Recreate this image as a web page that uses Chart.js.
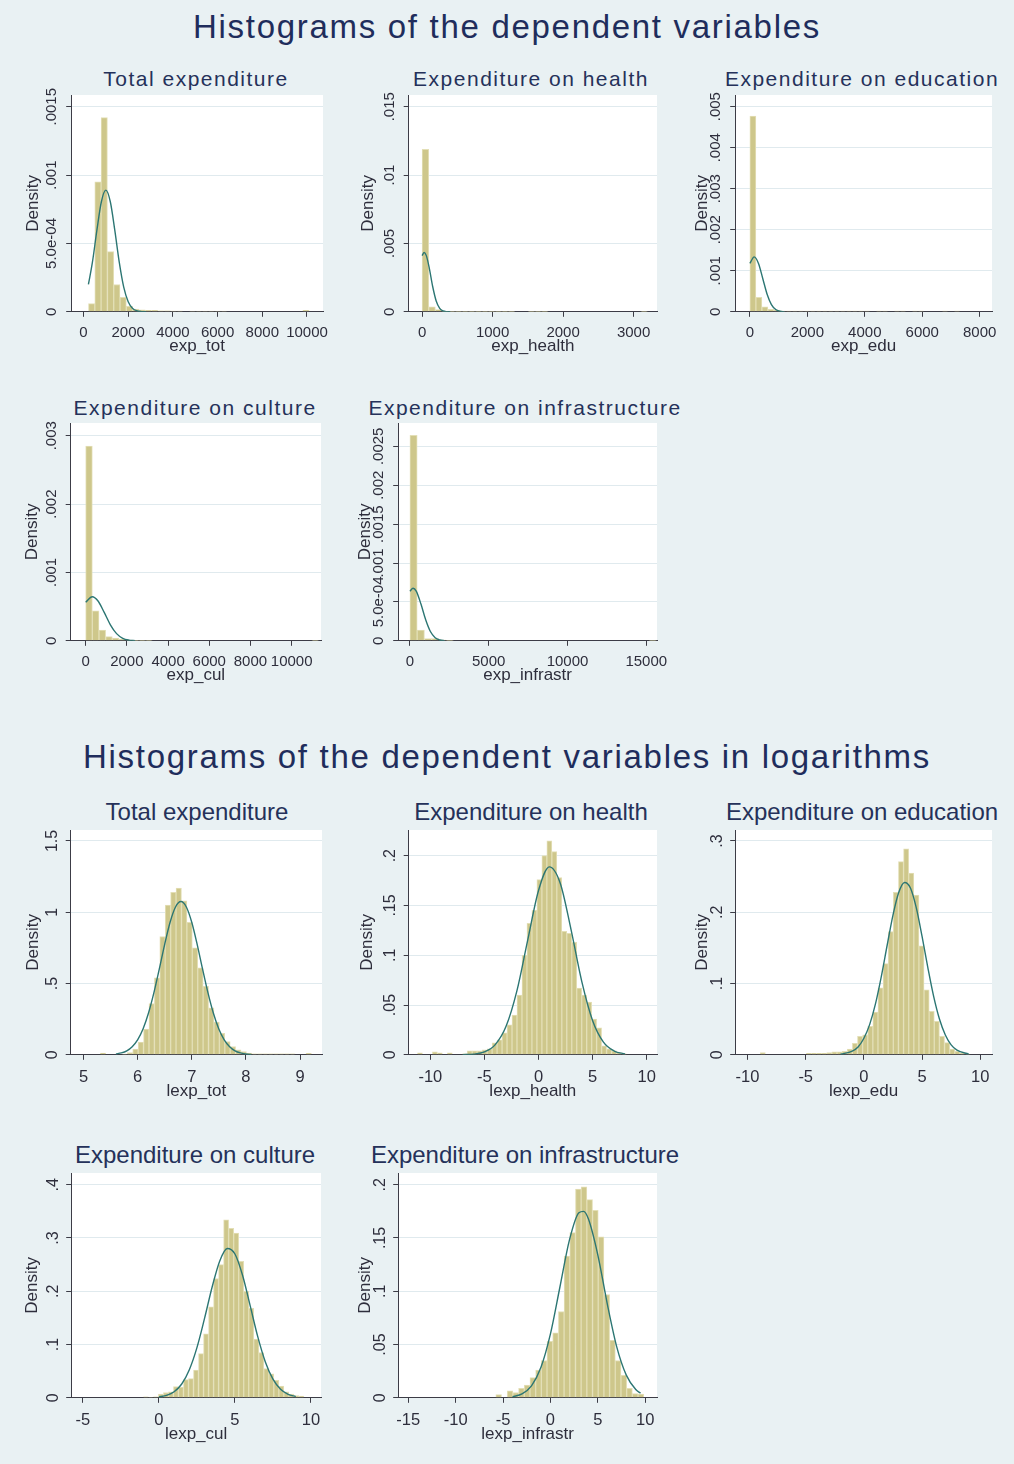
<!DOCTYPE html>
<html>
<head>
<meta charset="utf-8">
<title>Histograms of the dependent variables</title>
<script src="https://cdn.jsdelivr.net/npm/chart.js@4.4.1/dist/chart.umd.min.js"></script>
<style>
  html, body { margin: 0; padding: 0; }
  body {
    width: 1014px; height: 1464px; position: relative; overflow: hidden;
    background: #e9f1f3;
    font-family: 'Liberation Sans', Arial, sans-serif;
  }
  .main-title {
    position: absolute; left: 0; width: 1014px; text-align: center;
    color: #1f2d5c; font-size: 33px; letter-spacing: 1.7px; line-height: 40px;
  }
  .panel-title {
    position: absolute; white-space: nowrap; transform: translateX(-50%);
    color: #25315a; line-height: 28px;
  }
  .panel-title.lvl { font-size: 21px; letter-spacing: 1.5px; }
  .panel-title.log { font-size: 24px; }
  canvas { position: absolute; }
</style>
</head>
<body>
<div class="main-title" style="top:7px">Histograms of the dependent variables</div>
<div class="main-title" style="top:737px">Histograms of the dependent variables in logarithms</div>

<script>
/* ============================================================
   Data (density histograms + normal)
   ============================================================ */

// --- levels ---
const totBinStart = 224, totBinWidth = 282;
const totHeights = [0.00006, 0.00095, 0.00142, 0.00044, 0.0002, 0.000105, 0.00004, 0.00002, 0.000015,
  0.00001, 0.00001, 0.000008, 0.000008, 0.000006, 0.000006, 0, 0.000005, 0.000005, 0.000005, 0.000005,
  0.000005, 0.000005, 0, 0, 0, 0, 0, 0, 0, 0, 0, 0, 0, 0, 0.00001];
const totCurveX = [220, 400, 600, 800, 1000, 1200, 1400, 1600, 1800, 2000, 2200, 2400, 2600, 2800];
const totCurveY = [0.0002, 0.000363, 0.000597, 0.000805, 0.00089, 0.000805, 0.000597, 0.000363, 0.00018,
  0.0000737, 0.0000246, 0.0000068, 0.0000015, 0];

const healthBinStart = 0, healthBinWidth = 94;
const healthHeights = [0.01188, 0.00037, 0.00017, 0.00003, 0.00003, 0.00003, 0.00003, 0.00003, 0.00003,
  0.00003, 0.00003, 0.00003, 0.00002, 0.00002, 0, 0, 0.00002, 0.00002, 0.00002, 0, 0, 0, 0, 0, 0, 0, 0,
  0, 0, 0, 0, 0, 0, 0.00002, 0];
const healthCurveX = [0, 30, 60, 100, 150, 200, 250, 300, 350, 400];
const healthCurveY = [0.00411, 0.00434, 0.00411, 0.00325, 0.00185, 0.00079, 0.00025, 0.000059, 0.00001, 0];

const eduBinStart = 0, eduBinWidth = 209;
const eduHeights = [0.00477, 0.00035, 0.00012, 0.00006, 0.00004, 0.00002, 0.00002, 0.00002, 0.00002,
  0.00002, 0.00002, 0.00002, 0.00002, 0.00002, 0.00002, 0.00002, 0.00002, 0.00002, 0.00002, 0.00002, 0,
  0.00002, 0.00002, 0, 0.00002, 0.00002, 0, 0.00002, 0.00002, 0, 0, 0, 0.00002, 0, 0.00002];
const eduCurveX = [0, 150, 300, 450, 600, 750, 900, 1050, 1200];
const eduCurveY = [0.00118, 0.00134, 0.00118, 0.000807, 0.000429, 0.000177, 0.0000564, 0.000014, 0.000003];

const culBinStart = 0, culBinWidth = 323;
const culHeights = [0.00285, 0.00044, 0.000156, 0.00006, 0.00004, 0.00002, 0.00001, 0.000005, 0.000005,
  0.000005, 0, 0, 0, 0, 0, 0, 0, 0, 0, 0, 0, 0, 0, 0, 0, 0, 0, 0, 0, 0, 0, 0, 0, 0, 0.000005];
const culCurveX = [0, 320, 600, 900, 1200, 1500, 1800, 2100, 2400];
const culCurveY = [0.000564, 0.000644, 0.000582, 0.000415, 0.000234, 0.000105, 0.000037, 0.0000103, 0.000002];

const infBinStart = 0, infBinWidth = 460;
const infHeights = [0.00264, 0.000137, 0.00003, 0.00003, 0.00001, 0.000005, 0, 0, 0, 0, 0, 0, 0, 0, 0,
  0, 0, 0, 0, 0, 0, 0, 0, 0, 0, 0, 0, 0, 0, 0, 0, 0, 0, 0.000005];
const infCurveX = [0, 200, 400, 700, 1000, 1300, 1600, 1900, 2200];
const infCurveY = [0.000638, 0.000676, 0.000638, 0.000472, 0.00027, 0.000119, 0.0000405, 0.0000107, 0.000002];

// --- logarithms ---
const ltotBinStart = 5.31, ltotBinWidth = 0.1;
const ltotHeights = [0.012, 0, 0, 0, 0.005, 0.015, 0.04, 0.09, 0.18, 0.36, 0.54, 0.83, 1.05, 1.14, 1.17,
  1.08, 0.93, 0.75, 0.61, 0.48, 0.33, 0.23, 0.15, 0.093, 0.058, 0.035, 0.023, 0.012, 0.006, 0.006, 0.006,
  0.006, 0.006, 0.006, 0.006, 0.006, 0, 0, 0.01];
const ltotCurveX = [5.6, 5.7, 5.8, 5.9, 6.0, 6.1, 6.2, 6.3, 6.4, 6.5, 6.6, 6.7, 6.8, 6.9, 7.0, 7.1, 7.2,
  7.3, 7.4, 7.5, 7.6, 7.7, 7.8, 7.9, 8.0, 8.1];
const ltotCurveY = [0.006, 0.013, 0.028, 0.057, 0.105, 0.181, 0.291, 0.434, 0.601, 0.775, 0.93, 1.037,
  1.075, 1.037, 0.93, 0.775, 0.601, 0.434, 0.291, 0.181, 0.105, 0.057, 0.028, 0.013, 0.006, 0.002];

const lhealthBinStart = -11.19, lhealthBinWidth = 0.46;
const lhealthHeights = [0.002, 0, 0, 0.003, 0.002, 0, 0.002, 0, 0, 0.001, 0.004, 0.004, 0.004, 0.005,
  0.006, 0.012, 0.015, 0.022, 0.03, 0.04, 0.06, 0.1, 0.132, 0.145, 0.176, 0.2, 0.215, 0.204, 0.178, 0.124,
  0.122, 0.113, 0.067, 0.06, 0.053, 0.036, 0.027, 0.009, 0.006, 0.004, 0.002, 0.001];
const lhealthCurveX = [-7, -6, -5, -4, -3, -2, -1, 0, 1, 2, 3, 4, 5, 6, 7, 8];
const lhealthCurveY = [0.0001, 0.0007, 0.0029, 0.0102, 0.0286, 0.0642, 0.1152, 0.165, 0.1888, 0.1726,
  0.126, 0.0735, 0.0343, 0.0128, 0.0038, 0.0009];

const leduBinStart = -9.35, leduBinWidth = 0.44;
const leduHeights = [0, 0.003, 0, 0, 0, 0, 0, 0, 0, 0, 0.002, 0.002, 0.002, 0.002, 0.003, 0.004, 0.004,
  0.005, 0.008, 0.016, 0.026, 0.028, 0.04, 0.06, 0.094, 0.128, 0.173, 0.228, 0.271, 0.289, 0.255, 0.224,
  0.153, 0.091, 0.061, 0.047, 0.026, 0.017, 0.008, 0.005, 0.002, 0.001];
const leduCurveX = [-2, -1, -0.5, 0, 0.5, 1, 1.5, 2, 2.5, 3, 3.5, 4, 4.5, 5, 5.5, 6, 6.5, 7, 7.5, 8, 9];
const leduCurveY = [0.0008, 0.0052, 0.011, 0.0232, 0.0427, 0.0717, 0.11, 0.1537, 0.196, 0.228, 0.2418,
  0.234, 0.2064, 0.166, 0.122, 0.0816, 0.0498, 0.0278, 0.014, 0.0065, 0.0011];

const lculBinStart = -1.025, lculBinWidth = 0.33;
const lculHeights = [0.002, 0.001, 0.002, 0.007, 0.01, 0.011, 0.021, 0.02, 0.034, 0.036, 0.052, 0.083,
  0.12, 0.171, 0.224, 0.25, 0.334, 0.318, 0.309, 0.256, 0.2, 0.168, 0.11, 0.085, 0.055, 0.045, 0.033,
  0.022, 0.011, 0.007, 0.004, 0.003];
const lculCurveX = [0, 0.5, 1, 1.5, 2, 2.5, 3, 3.5, 4, 4.5, 5, 5.5, 6, 6.5, 7, 7.5, 8, 8.5, 9];
const lculCurveY = [0.0015, 0.0044, 0.0113, 0.0259, 0.0526, 0.0941, 0.149, 0.208, 0.257, 0.2803, 0.27,
  0.23, 0.173, 0.1148, 0.0673, 0.0349, 0.016, 0.0065, 0.0023];

const linfBinStart = -5.76, linfBinWidth = 0.6;
const linfHeights = [0.003, 0, 0.0066, 0.005, 0.009, 0.012, 0.019, 0.026, 0.035, 0.053, 0.061, 0.081,
  0.133, 0.155, 0.196, 0.198, 0.186, 0.176, 0.151, 0.097, 0.054, 0.035, 0.021, 0.009, 0.004, 0.0035];
const linfCurveX = [-4, -3, -2, -1, 0, 1, 2, 3, 3.5, 4, 5, 6, 7, 8, 9, 9.5];
const linfCurveY = [0.001, 0.0036, 0.0112, 0.0286, 0.06, 0.104, 0.148, 0.1737, 0.175, 0.168, 0.134,
  0.088, 0.0476, 0.0213, 0.0078, 0.0044];

// --- axis ticks and labels ---
const xTicksTot = [0, 2000, 4000, 6000, 8000, 10000];
const xTicksHealth = [0, 1000, 2000, 3000];
const xTicksEdu = [0, 2000, 4000, 6000, 8000];
const xTicksCul = [0, 2000, 4000, 6000, 8000, 10000];
const xTicksInf = [0, 5000, 10000, 15000];
const xTicksLtot = [5, 6, 7, 8, 9];
const xTicksLhealth = [-10, -5, 0, 5, 10];
const xTicksLedu = [-10, -5, 0, 5, 10];
const xTicksLcul = [-5, 0, 5, 10];
const xTicksLinf = [-15, -10, -5, 0, 5, 10];

const yTicksTot = [0, 0.0005, 0.001, 0.0015];
const yLabelsTot = ['0', '5.0e-04', '.001', '.0015'];
const yTicksHealth = [0, 0.005, 0.01, 0.015];
const yLabelsHealth = ['0', '.005', '.01', '.015'];
const yTicksEdu = [0, 0.001, 0.002, 0.003, 0.004, 0.005];
const yLabelsEdu = ['0', '.001', '.002', '.003', '.004', '.005'];
const yTicksCul = [0, 0.001, 0.002, 0.003];
const yLabelsCul = ['0', '.001', '.002', '.003'];
const yTicksInf = [0, 0.0005, 0.001, 0.0015, 0.002, 0.0025];
const yLabelsInf = ['0', '5.0e-04', '.001', '.0015', '.002', '.0025'];
const yTicksLtot = [0, 0.5, 1, 1.5];
const yLabelsLtot = ['0', '.5', '1', '1.5'];
const yTicksLhealth = [0, 0.05, 0.1, 0.15, 0.2];
const yLabelsLhealth = ['0', '.05', '.1', '.15', '.2'];
const yTicksLedu = [0, 0.1, 0.2, 0.3];
const yLabelsLedu = ['0', '.1', '.2', '.3'];
const yTicksLcul = [0, 0.1, 0.2, 0.3, 0.4];
const yLabelsLcul = ['0', '.1', '.2', '.3', '.4'];
const yTicksLinf = [0, 0.05, 0.1, 0.15, 0.2];
const yLabelsLinf = ['0', '.05', '.1', '.15', '.2'];

/* --- look --- */
const BAR_FILL = '#cec78b';
const BAR_EDGE = '#e3dfb6';
const CURVE = '#2c7673';
const GRID = '#e0eaee';
const AXIS = '#3c3c46';
const TEXT = '#2e2e3c';
const FONT = "'Liberation Sans', Arial, sans-serif";

/* --- panel layout: plot = [left, top, right, bottom] in page px --- */
const panels = [
  { title: 'Total expenditure', tx: 196, ty: 79, kind: 'lvl', plot: [71, 95, 322.7, 311.7],
    xMin: -550, xMax: 10716, yMax: 0.001586, dens: 38,
    start: totBinStart, width: totBinWidth, heights: totHeights, cx: totCurveX, cy: totCurveY,
    xTicks: xTicksTot, yTicks: yTicksTot, yLabels: yLabelsTot, xTitle: 'exp_tot' },
  { title: 'Expenditure on health', tx: 531, ty: 79, kind: 'lvl', plot: [408.3, 95, 656.7, 311.7],
    xMin: -190, xMax: 3332, yMax: 0.01586, dens: 40.5,
    start: healthBinStart, width: healthBinWidth, heights: healthHeights, cx: healthCurveX, cy: healthCurveY,
    xTicks: xTicksHealth, yTicks: yTicksHealth, yLabels: yLabelsHealth, xTitle: 'exp_health' },
  { title: 'Expenditure on education', tx: 862, ty: 79, kind: 'lvl', plot: [735.3, 95, 992.3, 311.7],
    xMin: -511, xMax: 8428, yMax: 0.005285, dens: 33,
    start: eduBinStart, width: eduBinWidth, heights: eduHeights, cx: eduCurveX, cy: eduCurveY,
    xTicks: xTicksEdu, yTicks: yTicksEdu, yLabels: yLabelsEdu, xTitle: 'exp_edu' },
  { title: 'Expenditure on culture', tx: 195, ty: 408, kind: 'lvl', plot: [71, 423.3, 321.7, 640.7],
    xMin: -727, xMax: 11425, yMax: 0.003186, dens: 38.5,
    start: culBinStart, width: culBinWidth, heights: culHeights, cx: culCurveX, cy: culCurveY,
    xTicks: xTicksCul, yTicks: yTicksCul, yLabels: yLabelsCul, xTitle: 'exp_cul' },
  { title: 'Expenditure on infrastructure', tx: 525, ty: 408, kind: 'lvl', plot: [398.3, 423.3, 656.7, 640.7],
    xMin: -744, xMax: 15680, yMax: 0.0028, dens: 33,
    start: infBinStart, width: infBinWidth, heights: infHeights, cx: infCurveX, cy: infCurveY,
    xTicks: xTicksInf, yTicks: yTicksInf, yLabels: yLabelsInf, xTitle: 'exp_infrastr' },
  { title: 'Total expenditure', tx: 197, ty: 812, kind: 'log', plot: [70.5, 830, 322, 1055],
    xMin: 4.764, xMax: 9.406, yMax: 1.577, dens: 37.5,
    start: ltotBinStart, width: ltotBinWidth, heights: ltotHeights, cx: ltotCurveX, cy: ltotCurveY,
    xTicks: xTicksLtot, yTicks: yTicksLtot, yLabels: yLabelsLtot, xTitle: 'lexp_tot' },
  { title: 'Expenditure on health', tx: 531, ty: 812, kind: 'log', plot: [408.3, 830, 657, 1055],
    xMin: -12.0, xMax: 10.95, yMax: 0.2258, dens: 41.5,
    start: lhealthBinStart, width: lhealthBinWidth, heights: lhealthHeights, cx: lhealthCurveX, cy: lhealthCurveY,
    xTicks: xTicksLhealth, yTicks: yTicksLhealth, yLabels: yLabelsLhealth, xTitle: 'lexp_health' },
  { title: 'Expenditure on education', tx: 862, ty: 812, kind: 'log', plot: [735.3, 830, 991.7, 1055],
    xMin: -11.06, xMax: 11.01, yMax: 0.3154, dens: 33,
    start: leduBinStart, width: leduBinWidth, heights: leduHeights, cx: leduCurveX, cy: leduCurveY,
    xTicks: xTicksLedu, yTicks: yTicksLedu, yLabels: yLabelsLedu, xTitle: 'lexp_edu' },
  { title: 'Expenditure on culture', tx: 195, ty: 1155, kind: 'log', plot: [71.5, 1173.3, 321.7, 1397.7],
    xMin: -5.77, xMax: 10.66, yMax: 0.422, dens: 39,
    start: lculBinStart, width: lculBinWidth, heights: lculHeights, cx: lculCurveX, cy: lculCurveY,
    xTicks: xTicksLcul, yTicks: yTicksLcul, yLabels: yLabelsLcul, xTitle: 'lexp_cul' },
  { title: 'Expenditure on infrastructure', tx: 525, ty: 1155, kind: 'log', plot: [398.3, 1173.3, 656.7, 1397.7],
    xMin: -16.06, xMax: 11.24, yMax: 0.211, dens: 33,
    start: linfBinStart, width: linfBinWidth, heights: linfHeights, cx: linfCurveX, cy: linfCurveY,
    xTicks: xTicksLinf, yTicks: yTicksLinf, yLabels: yLabelsLinf, xTitle: 'lexp_infrastr' }
];

/* --- plugins --- */

// white plot region
const plotBackground = {
  id: 'plotBackground',
  beforeDraw(chart) {
    const { ctx, chartArea: a } = chart;
    ctx.save();
    ctx.fillStyle = '#ffffff';
    ctx.fillRect(a.left, a.top, a.right - a.left, a.bottom - a.top);
    ctx.restore();
  }
};

// Stata writes the y labels turned a quarter, centred on the tick
const rotatedYLabels = {
  id: 'rotatedYLabels',
  afterDraw(chart, args, opts) {
    const scale = chart.scales.y;
    const ctx = chart.ctx;
    const x0 = chart.chartArea.left - opts.offset;
    ctx.save();
    ctx.fillStyle = TEXT;
    ctx.font = opts.size + 'px ' + FONT;
    ctx.textAlign = 'center';
    ctx.textBaseline = 'middle';
    scale.ticks.forEach((t) => {
      ctx.save();
      ctx.translate(x0, scale.getPixelForValue(t.value));
      ctx.rotate(-Math.PI / 2);
      ctx.fillText(t.label, 0, 0);
      ctx.restore();
    });
    ctx.restore();
  }
};

function drawPanel(p) {
  const big = p.kind === 'log';
  const tickSize = big ? 16.5 : 15;
  const titleSize = 17;
  const lh = titleSize * 1.2;
  const yw = p.dens + lh / 2;            // y axis box width: puts "Density" where Stata has it
  const xh = (big ? 37 : 35) + lh / 2;   // x axis box height
  const padTop = 16, padRight = 30;
  const [L, T, R, B] = p.plot;

  // panel title
  const head = document.createElement('div');
  head.className = 'panel-title ' + p.kind;
  head.textContent = p.title;
  head.style.left = p.tx + 'px';
  head.style.top = (p.ty - 14) + 'px';
  document.body.appendChild(head);

  const canvas = document.createElement('canvas');
  const w = Math.round(yw + (R - L) + padRight);
  const h = Math.round(padTop + (B - T) + xh);
  canvas.width = w;
  canvas.height = h;
  canvas.style.width = w + 'px';
  canvas.style.height = h + 'px';
  canvas.style.left = (L - yw) + 'px';
  canvas.style.top = (T - padTop) + 'px';
  document.body.appendChild(canvas);

  const bars = p.heights.map((v, i) => ({ x: p.start + p.width * (i + 0.5), y: v }));
  const curve = p.cx.map((x, i) => ({ x: x, y: p.cy[i] }));

  new Chart(canvas, {
    type: 'bar',
    data: {
      datasets: [
        {
          type: 'line',
          data: curve,
          borderColor: CURVE,
          borderWidth: 1.4,
          pointRadius: 0,
          fill: false,
          cubicInterpolationMode: 'monotone',
          order: 0
        },
        {
          type: 'bar',
          data: bars,
          backgroundColor: BAR_FILL,
          borderColor: BAR_EDGE,
          borderWidth: 1,
          borderSkipped: 'bottom',
          barPercentage: 1,
          categoryPercentage: 1,
          order: 1
        }
      ]
    },
    options: {
      responsive: false,
      animation: false,
      devicePixelRatio: 1,
      layout: { padding: { top: padTop, right: padRight, left: 0, bottom: 0 } },
      plugins: {
        legend: { display: false },
        tooltip: { enabled: false },
        rotatedYLabels: { offset: big ? 18 : 19, size: big ? 16 : 15 }
      },
      scales: {
        x: {
          type: 'linear',
          min: p.xMin,
          max: p.xMax,
          offset: false,
          afterBuildTicks: (s) => { s.ticks = p.xTicks.map((v) => ({ value: v })); },
          afterFit: (s) => { s.height = xh; },
          ticks: {
            autoSkip: false, minRotation: 0, maxRotation: 0, padding: 7.5,
            color: TEXT, font: { family: FONT, size: tickSize },
            callback: (v) => String(v)
          },
          grid: { drawOnChartArea: false, offset: false, tickLength: 5, color: AXIS },
          border: { color: AXIS, width: 1 },
          title: { display: true, text: p.xTitle, color: TEXT, font: { family: FONT, size: titleSize }, padding: 0 }
        },
        y: {
          type: 'linear',
          min: 0,
          max: p.yMax,
          afterBuildTicks: (s) => { s.ticks = p.yTicks.map((v) => ({ value: v })); },
          afterFit: (s) => { s.width = yw; },
          ticks: { display: false, callback: (v, i) => p.yLabels[i] },
          grid: {
            color: (c) => (c.tick && c.tick.value === 0 ? 'rgba(0,0,0,0)' : GRID),
            tickColor: AXIS,
            tickLength: 5
          },
          border: { color: AXIS, width: 1 },
          title: { display: true, text: 'Density', color: TEXT, font: { family: FONT, size: titleSize }, padding: 0 }
        }
      }
    },
    plugins: [plotBackground, rotatedYLabels]
  });
}

panels.forEach(drawPanel);
</script>
</body>
</html>
